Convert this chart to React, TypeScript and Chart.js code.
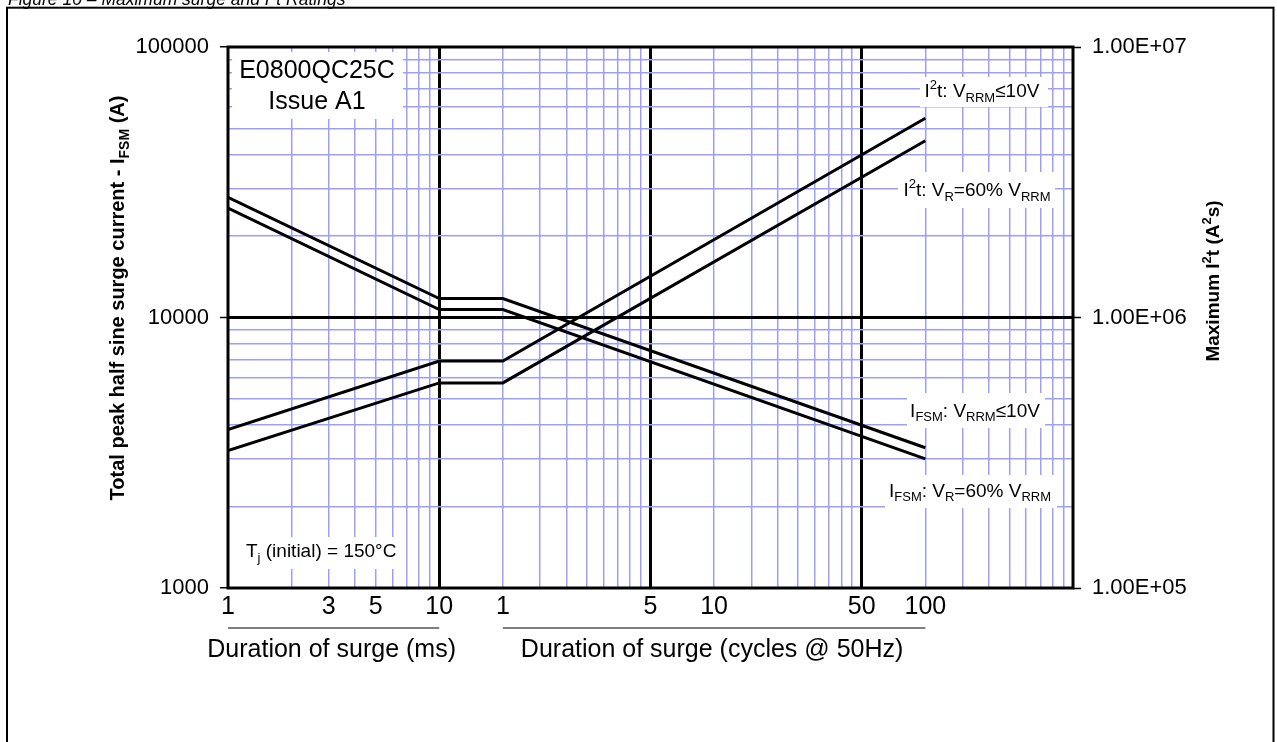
import React, { useEffect, useRef } from 'react';
import { Chart, registerables } from 'chart.js';

Chart.register(...registerables);

// ---------- data ----------
// x positions expressed in ms (20 ms = 1 cycle @ 50Hz, 2000 ms = 100 cycles)
const DURATION_MS = [1, 10, 20, 2000];
const IFSM_VRRM_10V = [27800, 11750, 11750, 3300];
const IFSM_VR_60 = [25400, 10700, 10700, 3000];
const I2T_VRRM_10V = [385000, 690000, 690000, 5450000];
const I2T_VR_60 = [322000, 573000, 573000, 4500000];

const X_GRID_VALUES = [
  1, 2, 3, 4, 5, 6, 7, 8, 9,
  10, 20, 30, 40, 50, 60, 70, 80, 90,
  100, 200, 300, 400, 500, 600, 700, 800, 900,
  1000, 2000, 3000, 4000, 5000, 6000, 7000, 8000, 9000,
  10000,
];
const X_TICK_LABELS: Record<number, string> = {
  1: '1', 3: '3', 5: '5', 10: '10',
  20: '1', 100: '5', 200: '10', 1000: '50', 2000: '100',
};
const X_THICK = [10, 100, 1000];

const Y_GRID_VALUES = [
  1000, 2000, 3000, 4000, 5000, 6000, 7000, 8000, 9000,
  10000, 20000, 30000, 40000, 50000, 60000, 70000, 80000, 90000,
  100000,
];
const Y_TICK_LABELS: Record<number, string> = { 1000: '1000', 10000: '10000', 100000: '100000' };
const Y_THICK = [10000];

const Y2_TICK_VALUES = [100000, 1000000, 10000000];
const Y2_TICK_LABELS = ['1.00E+05', '1.00E+06', '1.00E+07'];

// ---------- drawing helpers ----------
const FONT = 'Arial, "Liberation Sans", Helvetica, sans-serif';
const GRID_BLUE = '#9d9dff';

type Seg = { t: string; k?: 'sub' | 'sup' };

function drawRich(
  ctx: CanvasRenderingContext2D,
  segs: Seg[],
  x: number,
  y: number,
  size: number,
  bold: boolean,
  align: 'left' | 'center',
  italic = false
) {
  const small = Math.round(size * 0.68);
  const fontOf = (s: number) => `${italic ? 'italic ' : ''}${bold ? 'bold ' : ''}${s}px ${FONT}`;
  ctx.textAlign = 'left';
  ctx.textBaseline = 'alphabetic';
  let total = 0;
  const widths = segs.map((sg) => {
    ctx.font = fontOf(sg.k ? small : size);
    const w = ctx.measureText(sg.t).width;
    total += w;
    return w;
  });
  let cx = align === 'center' ? x - total / 2 : x;
  segs.forEach((sg, i) => {
    ctx.font = fontOf(sg.k ? small : size);
    const dy = sg.k === 'sub' ? size * 0.26 : sg.k === 'sup' ? -size * 0.42 : 0;
    ctx.fillText(sg.t, cx, y + dy);
    cx += widths[i];
  });
}

const boxesPlugin = {
  id: 'boxes',
  beforeDatasetsDraw(chart: any) {
    const ctx: CanvasRenderingContext2D = chart.ctx;
    ctx.save();
    ctx.fillStyle = '#fff';
    const rects: [number, number, number, number][] = [
      [232, 52, 171, 67],
      [232, 537, 168, 32],
      [920, 77, 128, 30],
      [898, 172, 157, 36],
      [907, 393, 138, 35],
      [885, 475, 172, 33],
    ];
    rects.forEach((r) => ctx.fillRect(r[0], r[1], r[2], r[3]));
    ctx.fillStyle = '#000';
    drawRich(ctx, [{ t: 'E0800QC25C' }], 317, 77.5, 25, false, 'center');
    drawRich(ctx, [{ t: 'Issue A1' }], 317, 108.5, 25, false, 'center');
    drawRich(ctx, [{ t: 'T' }, { t: 'j', k: 'sub' }, { t: ' (initial) = 150°C' }], 246, 557, 19, false, 'left');
    drawRich(ctx, [{ t: 'I' }, { t: '2', k: 'sup' }, { t: 't: V' }, { t: 'RRM', k: 'sub' }, { t: '≤10V' }], 982, 97, 19, false, 'center');
    drawRich(ctx, [{ t: 'I' }, { t: '2', k: 'sup' }, { t: 't: V' }, { t: 'R', k: 'sub' }, { t: '=60% V' }, { t: 'RRM', k: 'sub' }], 977, 196, 19, false, 'center');
    drawRich(ctx, [{ t: 'I' }, { t: 'FSM', k: 'sub' }, { t: ': V' }, { t: 'RRM', k: 'sub' }, { t: '≤10V' }], 975, 416.5, 19, false, 'center');
    drawRich(ctx, [{ t: 'I' }, { t: 'FSM', k: 'sub' }, { t: ': V' }, { t: 'R', k: 'sub' }, { t: '=60% V' }, { t: 'RRM', k: 'sub' }], 970, 496.5, 19, false, 'center');
    ctx.restore();
  },
  afterDraw(chart: any) {
    const ctx: CanvasRenderingContext2D = chart.ctx;
    const ca = chart.chartArea;
    const xs = chart.scales.x;
    ctx.save();
    // plot border
    ctx.strokeStyle = '#000';
    ctx.lineWidth = 3;
    ctx.strokeRect(ca.left, ca.top, ca.right - ca.left, ca.bottom - ca.top);
    // outer frame
    ctx.lineWidth = 2;
    ctx.strokeRect(7, 7.7, 1266.5, 780);
    ctx.fillStyle = '#000';
    // caption (cut off at the top)
    drawRich(ctx, [{ t: 'Figure 10 – Maximum surge and I' }, { t: '2', k: 'sup' }, { t: 't Ratings' }], 8, 5, 17.5, false, 'left', true);
    // axis titles
    ctx.save();
    ctx.translate(124, 298);
    ctx.rotate(-Math.PI / 2);
    drawRich(ctx, [{ t: 'Total peak half sine surge current - I' }, { t: 'FSM', k: 'sub' }, { t: ' (A)' }], 0, 0, 20, true, 'center');
    ctx.restore();
    ctx.save();
    ctx.translate(1219, 281);
    ctx.rotate(-Math.PI / 2);
    drawRich(ctx, [{ t: 'Maximum I' }, { t: '2', k: 'sup' }, { t: 't (A' }, { t: '2', k: 'sup' }, { t: 's)' }], 0, 0, 19, true, 'center');
    ctx.restore();
    // x-axis group labels
    const groups: [number, number, string][] = [
      [1, 10, 'Duration of surge (ms)'],
      [20, 2000, 'Duration of surge (cycles @ 50Hz)'],
    ];
    groups.forEach(([a, b, label]) => {
      const x0 = xs.getPixelForValue(a);
      const x1 = xs.getPixelForValue(b);
      ctx.strokeStyle = '#555';
      ctx.lineWidth = 1.5;
      ctx.beginPath();
      ctx.moveTo(x0, 628);
      ctx.lineTo(x1, 628);
      ctx.stroke();
      drawRich(ctx, [{ t: label }], (x0 + x1) / 2 - 2, 657, 25, false, 'center');
    });
    ctx.restore();
  },
};

export default function App() {
  const ref = useRef<HTMLCanvasElement | null>(null);

  useEffect(() => {
    if (!ref.current) return;
    const mk = (ys: number[]) => DURATION_MS.map((x, i) => ({ x, y: ys[i] }));
    const lineStyle = {
      borderColor: '#000',
      borderWidth: 3,
      pointRadius: 0,
      tension: 0,
      fill: false,
    };
    const chart = new Chart(ref.current, {
      type: 'line',
      data: {
        datasets: [
          { label: 'IFSM: VRRM≤10V', data: mk(IFSM_VRRM_10V), yAxisID: 'y', ...lineStyle },
          { label: 'IFSM: VR=60% VRRM', data: mk(IFSM_VR_60), yAxisID: 'y', ...lineStyle },
          { label: 'I2t: VRRM≤10V', data: mk(I2T_VRRM_10V), yAxisID: 'y2', ...lineStyle },
          { label: 'I2t: VR=60% VRRM', data: mk(I2T_VR_60), yAxisID: 'y2', ...lineStyle },
        ],
      },
      options: {
        responsive: false,
        animation: false,
        events: [],
        layout: { padding: { left: 0, right: 0, top: 47, bottom: 0 } },
        plugins: { legend: { display: false }, tooltip: { enabled: false } },
        scales: {
          x: {
            type: 'logarithmic',
            min: 1,
            max: 10000,
            border: { display: false },
            afterBuildTicks: (s: any) => {
              s.ticks = X_GRID_VALUES.map((v) => ({ value: v }));
            },
            afterFit: (s: any) => {
              s.height = 154;
            },
            grid: {
              drawTicks: false,
              color: (c: any) => (c.tick && X_THICK.includes(c.tick.value) ? '#000' : GRID_BLUE),
              lineWidth: (c: any) => (c.tick && X_THICK.includes(c.tick.value) ? 3 : 1.5),
            },
            ticks: {
              autoSkip: false,
              maxRotation: 0,
              padding: 4,
              color: '#000',
              font: { family: FONT, size: 25 },
              callback: (v: any) => X_TICK_LABELS[Number(v)] ?? '',
            },
          },
          y: {
            type: 'logarithmic',
            position: 'left',
            min: 1000,
            max: 100000,
            border: { display: false },
            afterBuildTicks: (s: any) => {
              s.ticks = Y_GRID_VALUES.map((v) => ({ value: v }));
            },
            afterFit: (s: any) => {
              s.width = 228;
            },
            grid: {
              drawTicks: true,
              tickLength: 8,
              tickWidth: 1.5,
              tickColor: (c: any) => (c.tick && Y_TICK_LABELS[c.tick.value] ? '#000' : 'rgba(0,0,0,0)'),
              color: (c: any) => (c.tick && Y_THICK.includes(c.tick.value) ? '#000' : GRID_BLUE),
              lineWidth: (c: any) => (c.tick && Y_THICK.includes(c.tick.value) ? 3 : 1.5),
            },
            ticks: {
              autoSkip: false,
              padding: 11,
              color: '#000',
              font: { family: FONT, size: 22 },
              callback: (v: any) => Y_TICK_LABELS[Number(v)] ?? '',
            },
          },
          y2: {
            type: 'logarithmic',
            position: 'right',
            min: 100000,
            max: 10000000,
            border: { display: false },
            afterBuildTicks: (s: any) => {
              s.ticks = Y2_TICK_VALUES.map((v) => ({ value: v }));
            },
            afterFit: (s: any) => {
              s.width = 204;
            },
            grid: {
              drawOnChartArea: false,
              drawTicks: true,
              tickLength: 8,
              tickWidth: 1.5,
              tickColor: '#000',
            },
            ticks: {
              autoSkip: false,
              padding: 11,
              color: '#000',
              font: { family: FONT, size: 22 },
              callback: (_v: any, i: number) => Y2_TICK_LABELS[i] ?? '',
            },
          },
        },
      },
      plugins: [boxesPlugin],
    } as any);
    return () => chart.destroy();
  }, []);

  return (
    <div style={{ position: 'fixed', left: 0, top: 0, width: 1277, height: 742, background: '#fff' }}>
      <canvas ref={ref} width={1277} height={742} style={{ display: 'block', width: 1277, height: 742 }} />
    </div>
  );
}
